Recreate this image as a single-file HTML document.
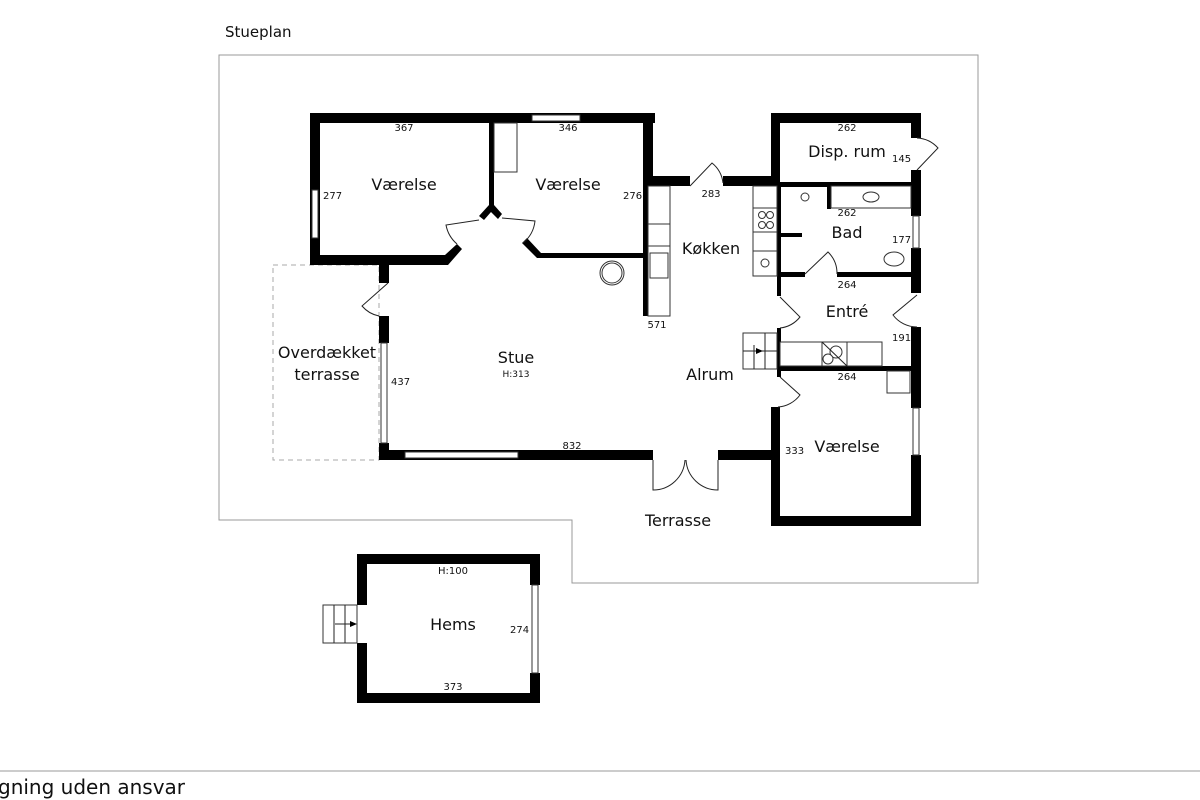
<!DOCTYPE html>
<html><head><meta charset="utf-8"><style>
html,body{margin:0;padding:0;background:#fff;}
svg{display:block;}
text{font-family:"DejaVu Sans","Liberation Sans",sans-serif;fill:#111;}
.L{font-size:16px;}
.S{font-size:10px;}
</style></head><body>
<svg width="1200" height="800" viewBox="0 0 1200 800" xmlns="http://www.w3.org/2000/svg">
<text x="225" y="37" style="font-size:15px">Stueplan</text>
<polygon points="219,55 978,55 978,583 572,583 572,520 219,520" fill="none" stroke="#999" stroke-width="1"/>
<rect x="273" y="265" width="106" height="195" fill="none" stroke="#aaa" stroke-dasharray="5,4"/>

<g fill="#000">
<rect x="310" y="113" width="345" height="10"/>
<rect x="310" y="113" width="10" height="152"/>
<rect x="310" y="255" width="135" height="10"/>
<polygon points="445,255 457,244 462,249 448,265 445,265"/>
<rect x="489" y="123" width="5" height="85"/>
<polygon points="489,205 494,205 502,214 498,219 491,212 484,220 479,216"/>
<polygon points="522,243 527,238 541,253 643,253 643,258 537,258"/>
<rect x="643" y="113" width="10" height="72"/>
<rect x="643" y="176" width="47" height="10"/>
<rect x="643" y="176" width="5" height="140"/>
<rect x="723" y="176" width="54" height="10"/>
<rect x="379" y="257" width="10" height="26"/>
<rect x="379" y="316" width="10" height="27"/>
<rect x="379" y="443" width="10" height="17"/>
<rect x="379" y="450" width="274" height="10"/>
<rect x="718" y="450" width="59" height="10"/>
<rect x="771" y="113" width="150" height="10"/>
<rect x="771" y="113" width="9" height="74"/>
<rect x="911" y="113" width="10" height="25"/>
<rect x="911" y="170" width="10" height="46"/>
<rect x="911" y="248" width="10" height="45"/>
<rect x="771" y="182" width="150" height="5"/>
<rect x="777" y="186" width="4" height="110"/>
<rect x="827" y="186" width="4" height="23"/>
<rect x="780" y="233" width="22" height="4"/>
<rect x="780" y="272" width="25" height="5"/>
<rect x="837" y="272" width="74" height="5"/>
<rect x="777" y="328" width="4" height="49"/>
<rect x="911" y="327" width="10" height="81"/>
<rect x="911" y="455" width="10" height="70"/>
<rect x="780" y="366" width="141" height="5"/>
<rect x="771" y="407" width="9" height="118"/>
<rect x="771" y="516" width="150" height="10"/>
<rect x="357" y="554" width="183" height="10"/>
<rect x="357" y="693" width="183" height="10"/>
<rect x="357" y="554" width="10" height="51"/>
<rect x="357" y="643" width="10" height="60"/>
<rect x="530" y="554" width="10" height="31"/>
<rect x="530" y="673" width="10" height="30"/>
</g>

<g fill="#fff" stroke="#333" stroke-width="1">
<rect x="312" y="190" width="6" height="48"/>
<rect x="532" y="115" width="48" height="6"/>
<rect x="381" y="343" width="6" height="100"/>
<rect x="405" y="452" width="113" height="6"/>
<rect x="913" y="216" width="6" height="32"/>
<rect x="913" y="408" width="6" height="47"/>
<rect x="532" y="585" width="6" height="88"/>
<rect x="494" y="123" width="23" height="49"/>
<rect x="648" y="186" width="22" height="130"/>
<rect x="648" y="224" width="22" height="22"/>
<rect x="650" y="253" width="18" height="25"/>
<rect x="753" y="186" width="24" height="90"/>
<rect x="753" y="208" width="24" height="24"/>
<rect x="753" y="251" width="24" height="25"/>
<rect x="831" y="186" width="80" height="22"/>
<rect x="780" y="342" width="102" height="24"/>
<rect x="822" y="342" width="25" height="24"/>
<rect x="887" y="371" width="23" height="22"/>
<rect x="743" y="333" width="34" height="36"/>
<rect x="323" y="605" width="34" height="38"/>
<circle cx="612" cy="273" r="12"/>
<circle cx="612" cy="273" r="10"/>
<circle cx="762" cy="215" r="3.5"/><circle cx="770" cy="215" r="3.5"/>
<circle cx="762" cy="225" r="3.5"/><circle cx="770" cy="225" r="3.5"/>
<circle cx="765" cy="263" r="4"/>
<ellipse cx="871" cy="197" rx="8" ry="5"/>
<ellipse cx="894" cy="259" rx="10" ry="7"/>
<circle cx="805" cy="197" r="4"/>
<circle cx="836" cy="352" r="6"/><circle cx="828" cy="359" r="5"/>
</g>
<g fill="none" stroke="#222" stroke-width="1">
<line x1="754" y1="345" x2="754" y2="369"/><line x1="765" y1="333" x2="765" y2="369"/><line x1="743" y1="351" x2="777" y2="351"/>
<line x1="334" y1="605" x2="334" y2="643"/><line x1="345" y1="605" x2="345" y2="643"/><line x1="335" y1="624" x2="355" y2="624"/>
<line x1="822" y1="342" x2="847" y2="366"/>
<path d="M479,220 L446,225 A33,33 0 0 0 457,244"/>
<path d="M502,218 L535,221 A33,33 0 0 1 523,243"/>
<path d="M690,186 L712,163 A30,30 0 0 1 723,183"/>
<path d="M917,170 L938,148 A30,30 0 0 0 917,138"/>
<path d="M805,274 L828,252 A30,30 0 0 1 837,274"/>
<path d="M780,297 L800,317 A30,30 0 0 1 780,328"/>
<path d="M917,295 L893,315 A30,30 0 0 0 917,327"/>
<path d="M780,377 L800,395 A30,30 0 0 1 778,407"/>
<path d="M388,283 L362,306 A30,30 0 0 0 379,316"/>
<path d="M653,460 L653,490 A32,32 0 0 0 685,460"/>
<path d="M718,460 L718,490 A32,32 0 0 1 686,460"/>
</g>
<polygon points="756,348 763,351 756,354" fill="#000"/>
<polygon points="350,621 357,624 350,627" fill="#000"/>

<text class="L" x="404" y="190" text-anchor="middle">Værelse</text>
<text class="L" x="568" y="190" text-anchor="middle">Værelse</text>
<text class="L" x="711" y="254" text-anchor="middle">Køkken</text>
<text class="L" x="847" y="157" text-anchor="middle">Disp. rum</text>
<text class="L" x="847" y="238" text-anchor="middle">Bad</text>
<text class="L" x="847" y="317" text-anchor="middle">Entré</text>
<text class="L" x="710" y="380" text-anchor="middle">Alrum</text>
<text class="L" x="516" y="363" text-anchor="middle">Stue</text>
<text class="L" x="327" y="358" text-anchor="middle">Overdækket</text>
<text class="L" x="327" y="380" text-anchor="middle">terrasse</text>
<text class="L" x="847" y="452" text-anchor="middle">Værelse</text>
<text class="L" x="678" y="526" text-anchor="middle">Terrasse</text>
<text class="L" x="453" y="630" text-anchor="middle">Hems</text>
<g class="S">
<text x="404" y="131" text-anchor="middle">367</text>
<text x="568" y="131" text-anchor="middle">346</text>
<text x="323" y="199">277</text>
<text x="623" y="199">276</text>
<text x="711" y="197" text-anchor="middle">283</text>
<text x="657" y="328" text-anchor="middle">571</text>
<text x="847" y="131" text-anchor="middle">262</text>
<text x="892" y="162">145</text>
<text x="847" y="216" text-anchor="middle">262</text>
<text x="892" y="243">177</text>
<text x="847" y="288" text-anchor="middle">264</text>
<text x="892" y="341">191</text>
<text x="847" y="380" text-anchor="middle">264</text>
<text x="785" y="454">333</text>
<text x="391" y="385">437</text>
<text x="572" y="449" text-anchor="middle">832</text>
<text x="516" y="377" text-anchor="middle" style="font-size:9px">H:313</text>
<text x="453" y="574" text-anchor="middle">H:100</text>
<text x="510" y="633">274</text>
<text x="453" y="690" text-anchor="middle">373</text>
</g>
<line x1="0" y1="771" x2="1200" y2="771" stroke="#999" stroke-width="1"/>
<text x="-2" y="794" style="font-size:20px">gning uden ansvar</text>
</svg>
</body></html>
